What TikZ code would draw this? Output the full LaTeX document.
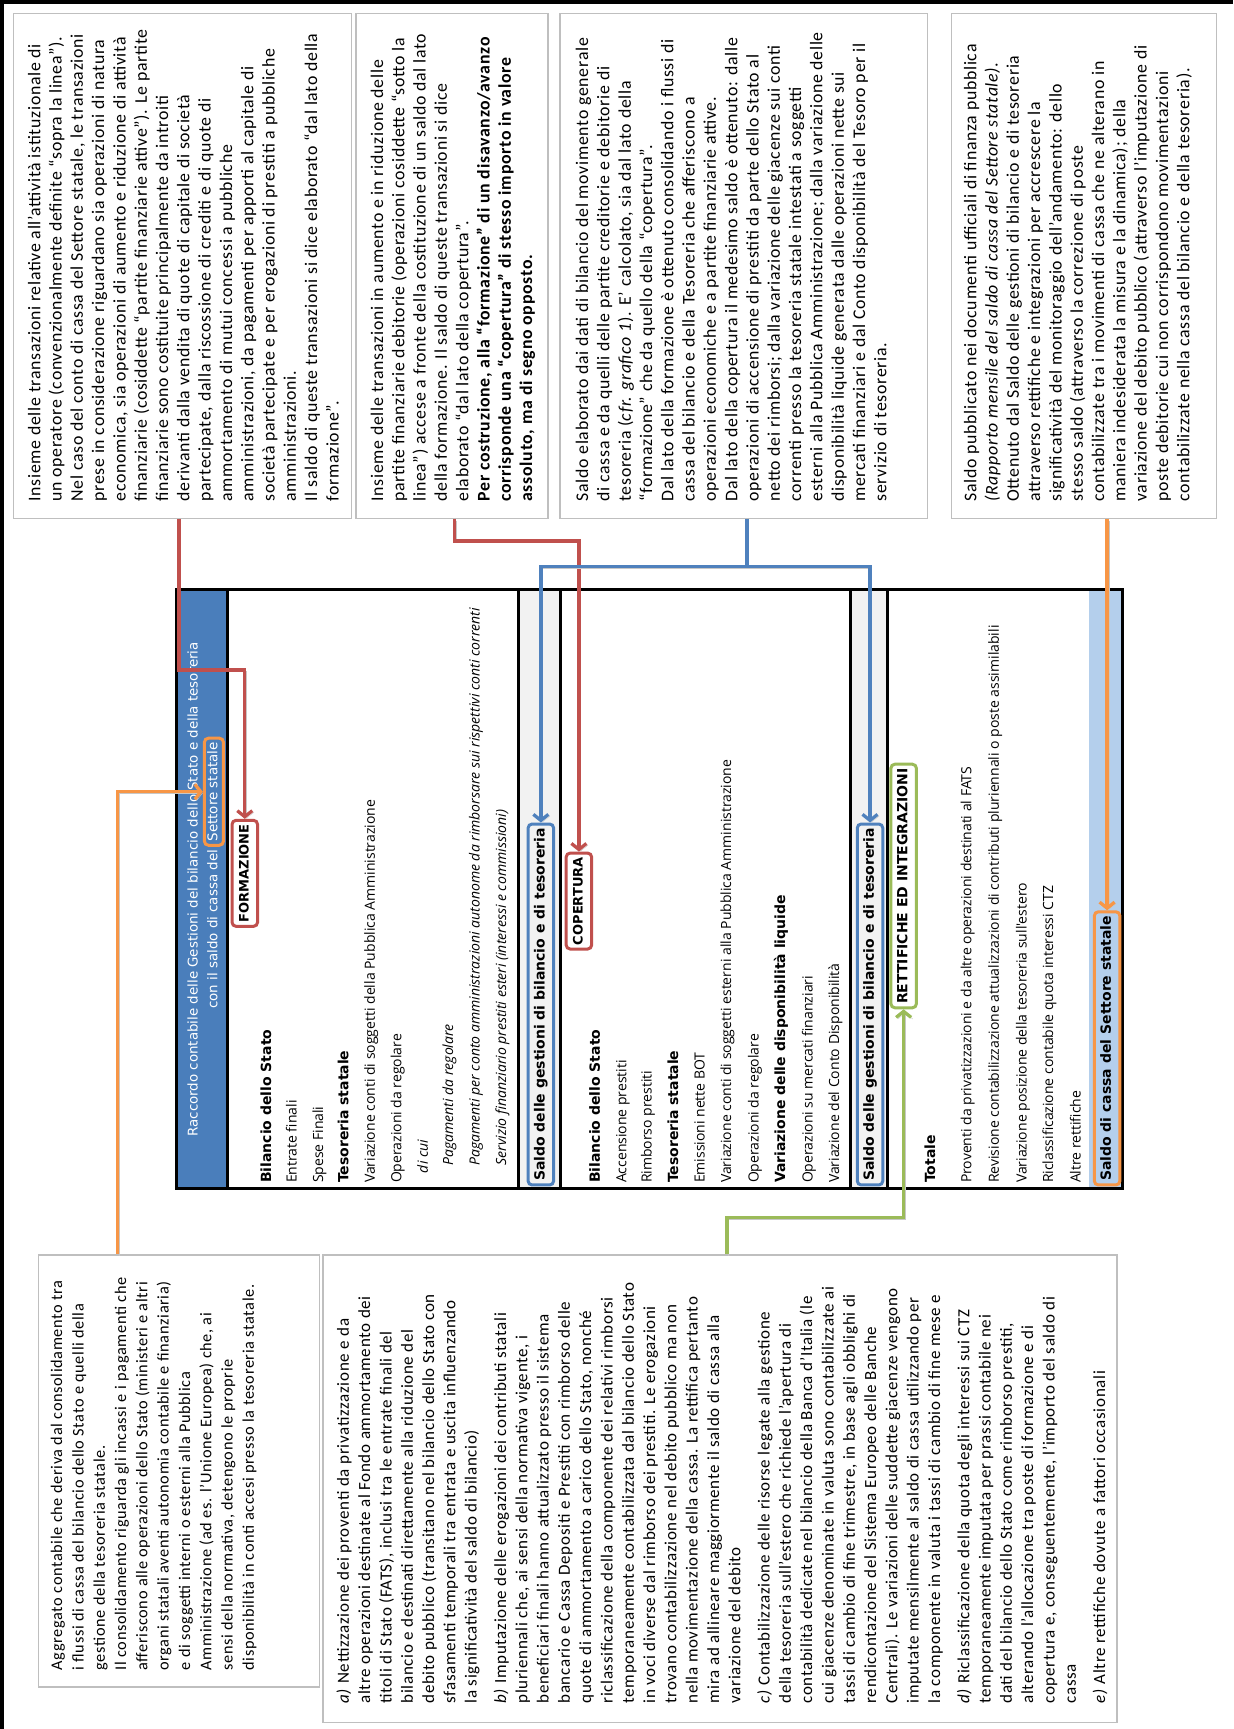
\documentclass[tikz,border=0pt]{standalone}
\usepackage{fontspec}
\setmainfont{Carlito}[LetterSpace=4]
\newfontfamily\tabfont{Open Sans}
\newfontfamily\hdfont{DejaVu Sans}
\usetikzlibrary{arrows.meta}
\definecolor{cred}{HTML}{C0504D}
\definecolor{cblue}{HTML}{4F81BD}
\definecolor{corange}{HTML}{F79646}
\definecolor{cgreen}{HTML}{9BBB59}
\definecolor{hdrblue}{HTML}{4A7EBB}
\definecolor{bandgray}{HTML}{F2F2F2}
\definecolor{bandblue}{HTML}{B4CFEC}
\definecolor{boxgray}{HTML}{BFBFBF}
\begin{document}
\begin{tikzpicture}[x=1.1027pt,y=-1.1027pt,
  tbox/.style={draw=boxgray,line width=1.4pt,inner sep=0pt},
  para/.style={rotate=90,anchor=north west,align=left,inner sep=0pt,font=\fontsize{17.8}{21.3}\selectfont},
  trow/.style={rotate=90,anchor=west,inner sep=0pt,text height=10pt,text depth=3.5pt,font=\tabfont\fontsize{14}{16}\selectfont},
  tit/.style={trow,font=\tabfont\itshape\fontsize{14}{16}\selectfont},
  tbf/.style={trow,font=\hdfont\bfseries\fontsize{14}{16}\selectfont},
  lab/.style={rotate=90,draw=#1,line width=3pt,rounded corners=4pt,inner xsep=4pt,inner ysep=6pt,text height=10.5pt,text depth=3pt,font=\hdfont\bfseries\fontsize{14}{16}\selectfont},
  hd/.style={rotate=90,text=white,inner sep=0pt,text height=10pt,text depth=3pt,font=\hdfont\fontsize{13.4}{15}\selectfont},
  conn/.style={draw=#1,line width=3.3pt,-{Straight Barb[length=6pt,width=15pt]},
    preaction={draw=black!22,transform canvas={shift={(1.6pt,-1.6pt)}}}},
]
\useasboundingbox (0,0) rectangle (1118.2,1568);
\fill[white] (0,0) rectangle (1118.2,1568);
\draw[line width=4.5pt] (2,1568) -- (2,2) -- (1118.2,2);

% ---------- text boxes ----------
\node[tbox,minimum width=307*1.1027pt,minimum height=458*1.1027pt] (b1) at (165.5,241) {};
\node[tbox,minimum width=174*1.1027pt,minimum height=458*1.1027pt] (b2) at (410,241) {};
\node[tbox,minimum width=333*1.1027pt,minimum height=458*1.1027pt] (b3) at (674.5,241) {};
\node[tbox,minimum width=240*1.1027pt,minimum height=458*1.1027pt] (b4) at (983,241) {};
\node[tbox,minimum width=255*1.1027pt,minimum height=392*1.1027pt] (b5) at (162.5,1334) {};
\node[tbox,minimum width=720*1.1027pt,minimum height=424*1.1027pt] (b6) at (653,1350) {};

\node[para] (t1) at (25,455) {Insieme delle transazioni relative all’attività istituzionale di\\
un operatore (convenzionalmente definite “sopra la linea”).\\
Nel caso del conto di cassa del Settore statale, le transazioni\\
prese in considerazione riguardano sia operazioni di natura\\
economica, sia operazioni di aumento e riduzione di attività\\
finanziarie (cosiddette “partite finanziarie attive”). Le partite\\
finanziarie sono costituite principalmente da introiti\\
derivanti dalla vendita di quote di capitale di società\\
partecipate, dalla riscossione di crediti e di quote di\\
ammortamento di mutui concessi a pubbliche\\
amministrazioni, da pagamenti per apporti al capitale di\\
società partecipate e per erogazioni di prestiti a pubbliche\\
amministrazioni.\\
Il saldo di queste transazioni si dice elaborato “dal lato della\\
formazione”.};

\node[para] (t2) at (336,455) {Insieme delle transazioni in aumento e in riduzione delle\\
partite finanziarie debitorie (operazioni cosiddette “sotto la\\
linea”) accese a fronte della costituzione di un saldo dal lato\\
della formazione. Il saldo di queste transazioni si dice\\
elaborato “dal lato della copertura”.\\
\textbf{Per costruzione, alla “formazione” di un disavanzo/avanzo}\\
\textbf{corrisponde una “copertura” di stesso importo in valore}\\
\textbf{assoluto, ma di segno opposto.}};

\node[para] (t3) at (522,455) {Saldo elaborato dai dati di bilancio del movimento generale\\
di cassa e da quelli delle partite creditorie e debitorie di\\
tesoreria (\textit{cfr. grafico 1}). E' calcolato, sia dal lato della\\
“formazione” che da quello della “copertura”.\\
Dal lato della formazione è ottenuto consolidando i flussi di\\
cassa del bilancio e della Tesoreria che afferiscono a\\
operazioni economiche e a partite finanziarie attive.\\
Dal lato della copertura il medesimo saldo è ottenuto: dalle\\
operazioni di accensione di prestiti da parte dello Stato al\\
netto dei rimborsi; dalla variazione delle giacenze sui conti\\
correnti presso la tesoreria statale intestati a soggetti\\
esterni alla Pubblica Amministrazione; dalla variazione delle\\
disponibilità liquide generata dalle operazioni nette sui\\
mercati finanziari e dal Conto disponibilità del Tesoro per il\\
servizio di tesoreria.};

\node[para] (t4) at (874,455) {Saldo pubblicato nei documenti ufficiali di finanza pubblica\\
\textit{(Rapporto mensile del saldo di cassa del Settore statale)}.\\
Ottenuto dal Saldo delle gestioni di bilancio e di tesoreria\\
attraverso rettifiche e integrazioni per accrescere la\\
significatività del monitoraggio dell'andamento: dello\\
stesso saldo (attraverso la correzione di poste\\
contabilizzate tra i movimenti di cassa che ne alterano in\\
maniera indesiderata la misura e la dinamica); della\\
variazione del debito pubblico (attraverso l'imputazione di\\
poste debitorie cui non corrispondono movimentazioni\\
contabilizzate nella cassa del bilancio e della tesoreria).};

\node[para,font=\fontsize{16.3}{21.3}\selectfont] (t5) at (46,1515) {Aggregato contabile che deriva dal consolidamento tra\\
i flussi di cassa del bilancio dello Stato e quelli della\\
gestione della tesoreria statale.\\
Il consolidamento riguarda gli incassi e i pagamenti che\\
afferiscono alle operazioni dello Stato (ministeri e altri\\
organi statali aventi autonomia contabile e finanziaria)\\
e di soggetti interni o esterni alla Pubblica\\
Amministrazione (ad es. l’Unione Europea) che, ai\\
sensi della normativa, detengono le proprie\\
disponibilità in conti accesi presso la tesoreria statale.};

\node[para,font=\fontsize{17}{21.3}\selectfont] (t6) at (305,1545) {\textit{a)} Nettizzazione dei proventi da privatizzazione e da\\
altre operazioni destinate al Fondo ammortamento dei\\
titoli di Stato (FATS), inclusi tra le entrate finali del\\
bilancio e destinati direttamente alla riduzione del\\
debito pubblico (transitano nel bilancio dello Stato con\\
sfasamenti temporali tra entrata e uscita influenzando\\
la significatività del saldo di bilancio)\\[8pt]
\textit{b)} Imputazione delle erogazioni dei contributi statali\\
pluriennali che, ai sensi della normativa vigente, i\\
beneficiari finali hanno attualizzato presso il sistema\\
bancario e Cassa Depositi e Prestiti con rimborso delle\\
quote di ammortamento a carico dello Stato, nonché\\
riclassificazione della componente dei relativi rimborsi\\
temporaneamente contabilizzata dal bilancio dello Stato\\
in voci diverse dal rimborso dei prestiti. Le erogazioni\\
trovano contabilizzazione nel debito pubblico ma non\\
nella movimentazione della cassa. La rettifica pertanto\\
mira ad allineare maggiormente il saldo di cassa alla\\
variazione del debito\\[8pt]
\textit{c)} Contabilizzazione delle risorse legate alla gestione\\
della tesoreria sull’estero che richiede l’apertura di\\
contabilità dedicate nel bilancio della Banca d’Italia (le\\
cui giacenze denominate in valuta sono contabilizzate ai\\
tassi di cambio di fine trimestre, in base agli obblighi di\\
rendicontazione del Sistema Europeo delle Banche\\
Centrali). Le variazioni delle suddette giacenze vengono\\
imputate mensilmente al saldo di cassa utilizzando per\\
la componente in valuta i tassi di cambio di fine mese e\\[8pt]
\textit{d)} Riclassificazione della quota degli interessi sui CTZ\\
temporaneamente imputata per prassi contabile nei\\
dati del bilancio dello Stato come rimborso prestiti,\\
alterando l’allocazione tra poste di formazione e di\\
copertura e, conseguentemente, l’importo del saldo di\\
cassa\\[8pt]
\textit{e)} Altre rettifiche dovute a fattori occasionali};

% ---------- table ----------
\fill[hdrblue] (160,535) rectangle (206,1078);
\fill[bandgray] (470,535) rectangle (508,1078);
\fill[bandgray] (771,535) rectangle (805,1078);
\fill[bandblue] (988,535) rectangle (1018,1078);
\draw[line width=3pt] (206,535)--(206,1078) (470,535)--(470,1078) (508,535)--(508,1078)
  (771,535)--(771,1078) (805,535)--(805,1078);
\draw[line width=3pt] (160,535) rectangle (1018,1078);

\node[hd] (h1) at (176,806.5) {Raccordo contabile delle Gestioni del bilancio dello Stato e della tesoreria};
\node[hd,draw=corange,line width=3pt,rounded corners=4pt,inner xsep=4pt,inner ysep=3pt] (settore) at (194,718) {Settore statale};
\node[hd,anchor=east] (h2) at ([yshift=-3pt]settore.west) {con il saldo di cassa del};

\node[lab=cred,fill=white,font=\hdfont\bfseries\fontsize{13}{15}\selectfont] (formazione) at (222,792) {FORMAZIONE};
\node[tbf] (r1) at (243,1073) {Bilancio dello Stato};
\node[trow] (r2) at (266,1073) {Entrate finali};
\node[trow] (r3) at (290,1073) {Spese Finali};
\node[tbf] (r4) at (313,1073) {Tesoreria statale};
\node[trow] (r5) at (337,1073) {Variazione conti di soggetti della Pubblica Amministrazione};
\node[trow] (r6) at (361,1073) {Operazioni da regolare};
\node[tit] (r7) at (385,1064) {di cui};
\node[tit] (r8) at (408,1057) {Pagamenti da regolare};
\node[tit] (r9) at (432,1057) {Pagamenti per conto amministrazioni autonome da rimborsare sui rispettivi conti correnti};
\node[tit] (r10) at (456,1057) {Servizio finanziario prestiti esteri (interessi e commissioni)};
\node[lab=cblue,anchor=west] (saldo1) at (490.5,1076) {Saldo delle gestioni di bilancio e di tesoreria};

\node[lab=cred,fill=white,anchor=west,font=\hdfont\bfseries\fontsize{13}{15}\selectfont] (copertura) at (525,862) {COPERTURA};
\node[tbf] (s1) at (541,1073) {Bilancio dello Stato};
\node[trow] (s2) at (565,1073) {Accensione prestiti};
\node[trow] (s3) at (588,1073) {Rimborso prestiti};
\node[tbf] (s4) at (612,1073) {Tesoreria statale};
\node[trow] (s5) at (636,1073) {Emissioni nette BOT};
\node[trow] (s6) at (660,1073) {Variazione conti di soggetti esterni alla Pubblica Amministrazione};
\node[trow] (s7) at (685,1073) {Operazioni da regolare};
\node[tbf] (s8) at (709,1073) {Variazione delle disponibilità liquide};
\node[trow] (s9) at (734,1073) {Operazioni su mercati finanziari};
\node[trow] (s10) at (758,1073) {Variazione del Conto Disponibilità};
\node[lab=cblue,anchor=west] (saldo2) at (789,1076) {Saldo delle gestioni di bilancio e di tesoreria};

\node[lab=cgreen,fill=white] (rettifiche) at (819.5,803.5) {RETTIFICHE ED INTEGRAZIONI};
\node[tbf] (u1) at (845,1073) {Totale};
\node[trow] (u2) at (878,1073) {Proventi da privatizzazioni e da altre operazioni destinati al FATS};
\node[trow] (u3) at (903,1073) {Revisione contabilizzazione attualizzazioni di contributi pluriennali o poste assimilabili};
\node[trow] (u4) at (928,1073) {Variazione posizione della tesoreria sull'estero};
\node[trow] (u5) at (952,1073) {Riclassificazione contabile quota interessi CTZ};
\node[trow] (u6) at (977,1073) {Altre rettifiche};
\node[lab=corange,anchor=west] (saldocassa) at (1004,1076) {Saldo di cassa del Settore statale};

% ---------- connectors ----------
\draw[conn=cred] (b1.south west) ++(151,0) -- ++(0,137) -| (formazione.east);
\draw[conn=cred] (b2.south west) ++(90,0) -- ++(0,20) -| (copertura.east);
\coordinate (bj) at ([xshift=170*1.1027pt,yshift=-43*1.1027pt]b3.south west);
\draw[conn=cblue] (b3.south west) ++(170,0) -- (bj) -| (saldo1.east);
\draw[conn=cblue] (b3.south west) ++(170,0) -- (bj) -| (saldo2.east);
\draw[conn=corange] (b4.south -| saldocassa.east) -- (saldocassa.east);
\draw[conn=corange] (b5.north west) ++(72,0) |- (settore.north);
\draw[conn=cgreen] (b6.north west) ++(367,0) -- ++(0,-33) -| (rettifiche.west);
\end{tikzpicture}
\end{document}
